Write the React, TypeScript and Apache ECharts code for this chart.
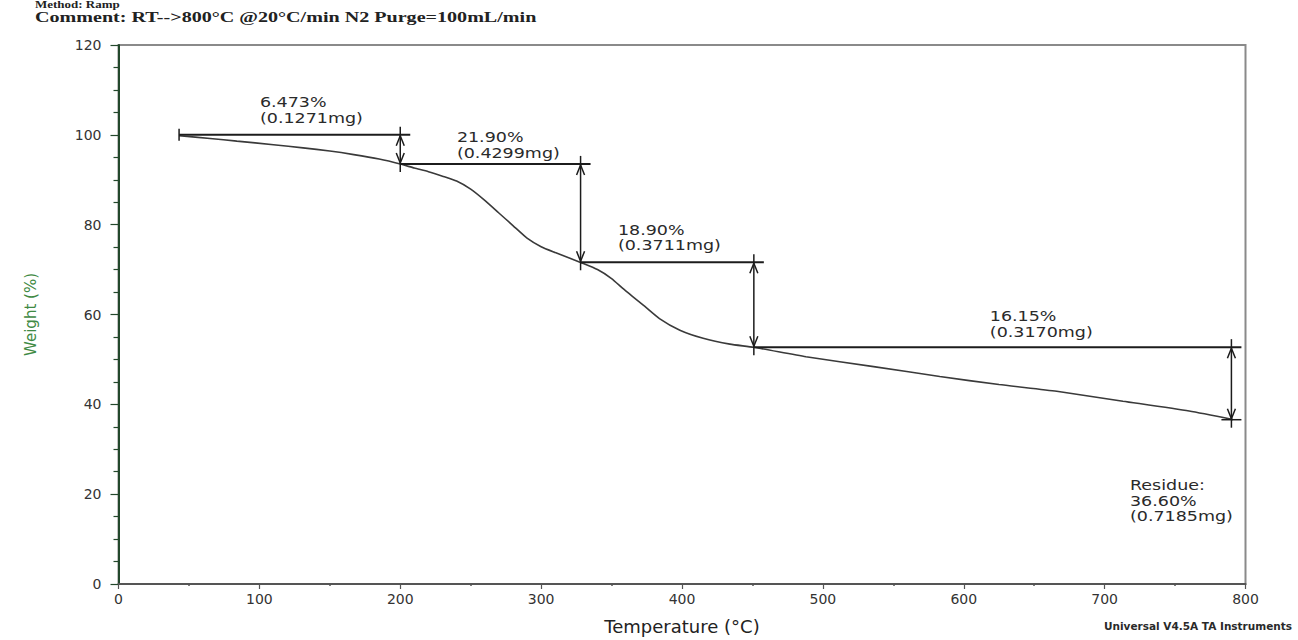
import React, { useEffect, useRef } from "react";
import * as echarts from "echarts";

// TGA curve: temperature (°C) vs. weight (%)
const tempC = [43, 65, 84, 110, 131, 150, 167, 185, 200, 210, 220, 230, 240, 250, 260, 270, 280, 290, 300, 310, 320, 328, 340, 350, 358, 365, 372.5, 384, 398.5, 415, 434, 451, 488, 536, 583, 625, 666, 713, 760, 791];
const weightPct = [99.8, 99.2, 98.6, 97.8, 97.1, 96.4, 95.6, 94.6, 93.5, 92.6, 91.8, 90.8, 89.7, 87.9, 85.4, 82.6, 79.8, 77.0, 75.1, 73.8, 72.6, 71.6, 70.0, 68.0, 65.8, 64.0, 62.1, 59.1, 56.5, 54.7, 53.4, 52.7, 50.6, 48.4, 46.2, 44.4, 42.9, 40.7, 38.5, 36.6];

// Weight-loss steps
const stepStartTemp = 43;
const stepTemps = [200, 328, 451, 790];
const stepLossPct = [6.473, 21.9, 18.9, 16.15];
const stepLossMg = [0.1271, 0.4299, 0.3711, 0.317];
const residuePct = 36.6;
const residueMg = 0.7185;

// Where each step's text sits (temperature, weight of the text's top edge)
const labelTemps = [100.4, 240.2, 354.5, 618.5, 718];
const labelWeights = [108.9, 101.2, 80.6, 61.3, 23.7];

const xTicks = { min: 0, max: 800, interval: 100 };
const yTicks = { min: 0, max: 120, interval: 20 };

const fmtPct = (v: number) => (v < 10 ? v.toFixed(3) : v.toFixed(2)) + "%";
const labelTexts = [
  ...stepLossPct.map((p, i) => `${fmtPct(p)}\n(${stepLossMg[i].toFixed(4)}mg)`),
  `Residue:\n${fmtPct(residuePct)}\n(${residueMg.toFixed(4)}mg)`,
];

// Level before and after each step
const levels: number[] = [100];
stepLossPct.forEach((p) => levels.push(levels[levels.length - 1] - p));

const stepData = stepTemps.map((t, i) => [
  i === 0 ? stepStartTemp : stepTemps[i - 1],
  levels[i],
  t,
  levels[i + 1],
]);

const SANS = "DejaVu Sans";

export default function App() {
  const ref = useRef<HTMLDivElement>(null);

  useEffect(() => {
    if (!ref.current) return;
    const chart = echarts.init(ref.current, null, { renderer: "svg" });
    const ink = "#1c1c1c";

    chart.setOption({
      animation: false,
      backgroundColor: "#ffffff",
      grid: {
        left: 118.5,
        right: 52.5,
        top: 45,
        bottom: 53,
        show: true,
        borderColor: "#8a8a8a",
        borderWidth: 2,
      },
      xAxis: {
        type: "value",
        ...xTicks,
        axisLine: { show: true, lineStyle: { color: "#555", width: 2 } },
        axisTick: { show: true, length: 5, lineStyle: { color: "#555", width: 1.2 } },
        minorTick: { show: true, splitNumber: 2, length: 2, lineStyle: { color: "#555", width: 1.5 } },
        splitLine: { show: false },
        axisLabel: { fontFamily: SANS, fontSize: 14, color: "#333", margin: 8 },
        name: "Temperature (°C)",
        nameLocation: "middle",
        nameGap: 33,
        nameTextStyle: { fontFamily: SANS, fontSize: 18, color: "#222" },
      },
      yAxis: {
        type: "value",
        ...yTicks,
        axisLine: { show: true, lineStyle: { color: "#23482c", width: 2 } },
        axisTick: { show: true, length: 8, lineStyle: { color: "#23482c", width: 1.2 } },
        minorTick: { show: true, splitNumber: 4, length: 5, lineStyle: { color: "#23482c", width: 1.2 } },
        splitLine: { show: false },
        axisLabel: { fontFamily: SANS, fontSize: 14, color: "#333", margin: 17 },
        name: "Weight (%)",
        nameLocation: "middle",
        nameRotate: 90,
        nameGap: 80,
        nameTextStyle: { fontFamily: SANS, fontSize: 15, color: "#3f8a44" },
      },
      series: [
        {
          type: "line",
          data: tempC.map((t, i) => [t, weightPct[i]]),
          showSymbol: false,
          smooth: 0.2,
          silent: true,
          lineStyle: { color: "#3a3a3a", width: 1.6 },
          z: 2,
        },
        {
          type: "custom",
          silent: true,
          z: 3,
          data: stepData,
          encode: { x: [0, 2], y: [1, 3] },
          renderItem: (params: any, api: any) => {
            const i = params.dataIndex;
            const a = api.coord([api.value(0), api.value(1)]);
            const b = api.coord([api.value(2), api.value(1)]);
            const c = api.coord([api.value(2), api.value(3)]);
            const st = { stroke: ink, lineWidth: 1.5, fill: null };
            const children: any[] = [
              { type: "line", shape: { x1: a[0], y1: a[1], x2: b[0] + 10, y2: b[1] }, style: { ...st, lineWidth: 2 } },
              { type: "line", shape: { x1: b[0], y1: b[1] - 8, x2: c[0], y2: c[1] + 8 }, style: st },
              {
                type: "polyline",
                shape: { points: [[b[0] - 4, b[1] + 11], [b[0], b[1] + 1], [b[0] + 4, b[1] + 11]] },
                style: st,
              },
              {
                type: "polyline",
                shape: { points: [[c[0] - 4, c[1] - 11], [c[0], c[1] - 1], [c[0] + 4, c[1] - 11]] },
                style: st,
              },
            ];
            if (i === 0) {
              children.push({ type: "line", shape: { x1: a[0], y1: a[1] - 6, x2: a[0], y2: a[1] + 6 }, style: st });
            }
            if (i === stepData.length - 1) {
              children.push({ type: "line", shape: { x1: c[0] - 10, y1: c[1], x2: c[0] + 10, y2: c[1] }, style: st });
            }
            return { type: "group", children };
          },
        },
        {
          type: "custom",
          silent: true,
          z: 4,
          data: labelTemps.map((t, i) => [t, labelWeights[i]]),
          encode: { x: 0, y: 1 },
          renderItem: (params: any, api: any) => {
            const p = api.coord([api.value(0), api.value(1)]);
            return {
              type: "text",
              x: p[0],
              y: p[1],
              scaleX: 1.25,
              style: {
                text: labelTexts[params.dataIndex],
                x: 0,
                y: 0,
                fill: "#2a2a2a",
                fontFamily: SANS,
                fontSize: 14,
                lineHeight: 15.5,
                align: "left",
                verticalAlign: "top",
              },
            };
          },
        },
      ],
      graphic: [
        {
          type: "text",
          x: 35,
          y: 0,
          scaleX: 1.3,
          silent: true,
          style: {
            text: "Method: Ramp",
            x: 0,
            y: 0,
            fill: "#222",
            font: 'bold 10px "Liberation Serif"',
            verticalAlign: "top",
          },
        },
        {
          type: "text",
          x: 35,
          y: 9,
          scaleX: 1.34,
          silent: true,
          style: {
            text: "Comment: RT-->800°C @20°C/min N2 Purge=100mL/min",
            x: 0,
            y: 0,
            fill: "#222",
            font: 'bold 15px "Liberation Serif"',
            verticalAlign: "top",
          },
        },
        {
          type: "text",
          x: 1104,
          y: 620,
          silent: true,
          style: {
            text: "Universal V4.5A TA Instruments",
            x: 0,
            y: 0,
            fill: "#2a2a2a",
            font: 'bold 10.5px "DejaVu Sans"',
            verticalAlign: "top",
          },
        },
      ],
    });

    return () => chart.dispose();
  }, []);

  return (
    <div
      ref={ref}
      style={{ position: "fixed", left: 0, top: 0, width: 1298, height: 640, background: "#fff" }}
    />
  );
}
